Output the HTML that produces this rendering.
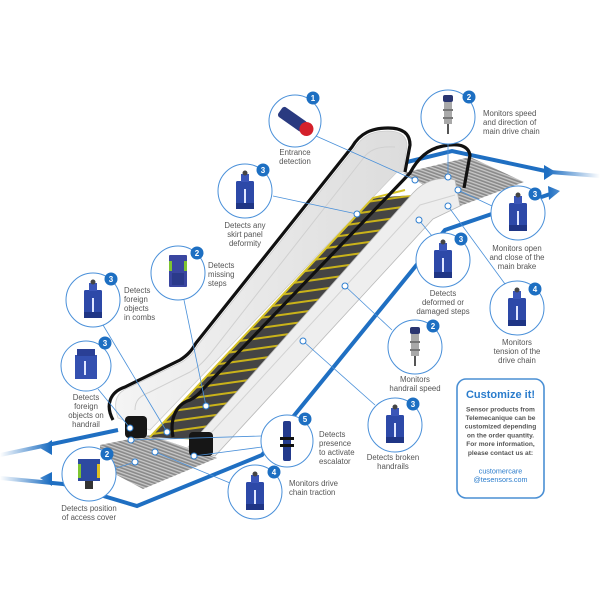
<!DOCTYPE html>
<html><head><meta charset="utf-8"><style>
html,body{margin:0;padding:0;background:#fff;width:600px;height:600px;overflow:hidden}
text{font-family:"Liberation Sans",sans-serif}
</style></head><body>
<svg width="600" height="600" viewBox="0 0 600 600" xmlns="http://www.w3.org/2000/svg">
<defs>
<pattern id="steps" patternUnits="userSpaceOnUse" width="30" height="10" patternTransform="rotate(-8)">
<rect width="30" height="10" fill="#444"/><rect width="30" height="2" fill="#c9b21a"/>
</pattern>
<pattern id="floor" patternUnits="userSpaceOnUse" width="6" height="3" patternTransform="rotate(20)">
<rect width="6" height="3" fill="#8a8a8a"/><rect width="6" height="1.3" fill="#c8c8c8"/>
</pattern>
<linearGradient id="fadeL" x1="0" x2="1"><stop offset="0" stop-color="#fff" stop-opacity="1"/><stop offset="1" stop-color="#fff" stop-opacity="0"/></linearGradient>
<linearGradient id="fadeR" x1="0" x2="1"><stop offset="0" stop-color="#fff" stop-opacity="0"/><stop offset="1" stop-color="#fff" stop-opacity="1"/></linearGradient>
<linearGradient id="glass" x1="0" y1="0" x2="1" y2="0"><stop offset="0" stop-color="#f4f4f4"/><stop offset="1" stop-color="#dcdcdc"/></linearGradient>
<g id="sw">
<rect x="-9" y="-12" width="18" height="28" rx="1.5" fill="#2d49a8"/>
<rect x="-4" y="-19" width="8" height="8" fill="#3b56b8"/>
<circle cx="0" cy="-20" r="2.5" fill="#444"/>
<rect x="-1" y="-4" width="2" height="16" fill="#dfe6ff"/>
<rect x="-9" y="10" width="18" height="6" fill="#1f3585"/>
</g>
<g id="prox">
<rect x="-5" y="-20" width="10" height="7" rx="2" fill="#2a3570"/>
<rect x="-4" y="-13" width="8" height="22" fill="#a9a9a9"/>
<rect x="-5" y="-6" width="10" height="2" fill="#777"/>
<rect x="-5" y="2" width="10" height="2" fill="#777"/>
<rect x="-1" y="9" width="2" height="10" fill="#555"/>
</g>
</defs>

<g stroke="#1f6fc2" stroke-width="4" fill="none" stroke-linejoin="miter">
<path d="M0,478 L63,484 L137,506 L262,455 L445,230 L556,192"/>
<path d="M0,455 L118,430"/>
<path d="M407,162 L452,151 L550,172 L600,176"/>
</g>
<g fill="#1f6fc2">
<polygon points="40,448 52,440 52,455"/>
<polygon points="40,478 52,472 52,486"/>
<polygon points="556,172 544,165 544,180"/>
<polygon points="560,191 548,186 549,200"/>
</g>
<rect x="0" y="420" width="50" height="80" fill="url(#fadeL)"/>
<rect x="548" y="150" width="52" height="60" fill="url(#fadeR)"/>

<polygon points="403,173 470,157 524,182 460,206" fill="url(#floor)"/>
<polygon points="100,445 150,435 217,458 143,489 100,466" fill="url(#floor)"/>

<path d="M118,418 C112,400 118,392 128,388 L182,362 C190,357 194,352 198,345 L354,149 C362,136 372,131 388,131 C400,131 407,136 407,146 L403,172 L397,172 L150,430 Z" fill="url(#glass)" stroke="#ccc" stroke-width="0.8"/>
<path d="M135,410 C135,400 140,396 150,392 L190,372 C200,366 205,360 210,354 L362,160 C368,150 378,146 395,147" fill="none" stroke="#d0d0d0" stroke-width="1"/>
<polygon points="150,437 373,198 413,195 200,440" fill="url(#steps)"/>
<polyline points="150,437 373,198 405,190" fill="none" stroke="#d7c327" stroke-width="2"/>
<path d="M188,447 L413,193 C425,180 440,176 455,180 L460,206 L433,219 L215,456 Z" fill="#eeeeee" stroke="#b8b8b8" stroke-width="0.8"/>
<path d="M200,445 L420,205 L455,195" fill="none" stroke="#d2d2d2" stroke-width="1"/>
<path d="M113,420 C105,405 110,392 125,387 L180,360 C188,355 192,350 196,343 L352,147 C360,133 372,128 388,128 C402,128 410,133 410,145 L405,172" fill="none" stroke="#111" stroke-width="3.2"/>
<path d="M173,437 C170,422 174,405 190,400 C196,397 200,393 204,388 L410,173 C418,158 428,149 443,146 C458,143 468,145 470,155 L464,188" fill="none" stroke="#111" stroke-width="3.2"/>
<rect x="125" y="416" width="22" height="22" rx="4" fill="#161616"/>
<rect x="189" y="432" width="24" height="24" rx="4" fill="#161616"/>

<g stroke="#4a90d9" stroke-width="0.8" fill="none">
<line x1="316" y1="136" x2="415" y2="180"/>
<line x1="448" y1="144" x2="448" y2="177"/>
<line x1="273" y1="196" x2="357" y2="214"/>
<line x1="184" y1="300" x2="206" y2="406"/>
<line x1="103" y1="325" x2="167" y2="432"/>
<line x1="98" y1="389" x2="130" y2="428"/>
<line x1="131" y1="440" x2="261" y2="436"/>
<line x1="194" y1="456" x2="262" y2="447"/>
<line x1="155" y1="452" x2="230" y2="483"/>
<line x1="135" y1="462" x2="110" y2="470"/>
<line x1="458" y1="190" x2="492" y2="206"/>
<line x1="419" y1="220" x2="432" y2="236"/>
<line x1="448" y1="206" x2="505" y2="284"/>
<line x1="345" y1="286" x2="392" y2="330"/>
<line x1="303" y1="341" x2="375" y2="405"/>
</g>
<g fill="#fff" stroke="#2f7fd0" stroke-width="1">
<circle cx="415" cy="180" r="3"/><circle cx="448" cy="177" r="3"/><circle cx="357" cy="214" r="3"/>
<circle cx="206" cy="406" r="3"/><circle cx="167" cy="432" r="3"/><circle cx="130" cy="428" r="3"/>
<circle cx="131" cy="440" r="3"/><circle cx="194" cy="456" r="3"/><circle cx="155" cy="452" r="3"/>
<circle cx="135" cy="462" r="3"/><circle cx="458" cy="190" r="3"/><circle cx="419" cy="220" r="3"/>
<circle cx="448" cy="206" r="3"/><circle cx="345" cy="286" r="3"/><circle cx="303" cy="341" r="3"/>
</g>

<g fill="#fff" stroke="#4a90d9" stroke-width="1">
<circle cx="295" cy="121" r="26"/><circle cx="448" cy="117" r="27"/>
<circle cx="245" cy="191" r="27"/><circle cx="178" cy="273" r="27"/>
<circle cx="93" cy="300" r="27"/><circle cx="86" cy="366" r="25"/>
<circle cx="89" cy="474" r="27"/><circle cx="287" cy="441" r="26"/>
<circle cx="255" cy="492" r="27"/><circle cx="518" cy="213" r="27"/>
<circle cx="443" cy="260" r="27"/><circle cx="517" cy="308" r="27"/>
<circle cx="415" cy="347" r="27"/><circle cx="395" cy="425" r="27"/>
</g>
<g transform="translate(295,121) rotate(-55)"><rect x="-6" y="-18" width="12" height="30" rx="3" fill="#2a3a80"/><circle cx="0" cy="14" r="7" fill="#d4202a"/></g>
<use href="#prox" x="448" y="115"/>
<use href="#sw" x="245" y="193"/>
<g transform="translate(178,273)"><rect x="-9" y="-18" width="18" height="32" rx="1" fill="#3a46a0"/><rect x="-9" y="-12" width="3" height="10" fill="#7ec431"/><rect x="6" y="-12" width="3" height="10" fill="#7ec431"/><rect x="-6" y="0" width="12" height="12" fill="#2b3a8a"/></g>
<use href="#sw" x="93" y="302"/>
<g transform="translate(86,367)"><rect x="-11" y="-12" width="22" height="24" fill="#3450b0"/><rect x="-9" y="-18" width="18" height="7" fill="#2a3f95"/><rect x="-2" y="-6" width="2" height="14" fill="#dfe6ff"/></g>
<g transform="translate(89,474)"><rect x="-11" y="-15" width="22" height="22" fill="#2d4aa0"/><rect x="-11" y="-10" width="3" height="14" fill="#7ec431"/><rect x="8" y="-10" width="3" height="14" fill="#e0c020"/><rect x="-4" y="7" width="8" height="8" fill="#333"/></g>
<g transform="translate(287,441)"><rect x="-4" y="-20" width="8" height="40" rx="2" fill="#233a8c"/><rect x="-7" y="-4" width="14" height="3" fill="#111"/><rect x="-7" y="3" width="14" height="3" fill="#111"/></g>
<use href="#sw" x="255" y="494"/>
<use href="#sw" x="518" y="215"/>
<use href="#sw" x="443" y="262"/>
<use href="#sw" x="517" y="310"/>
<use href="#prox" x="415" y="347"/>
<use href="#sw" x="395" y="427"/>

<g fill="#1d6fc2">
<circle cx="313" cy="98" r="6.5"/><circle cx="469" cy="97" r="6.5"/><circle cx="263" cy="170" r="6.5"/>
<circle cx="197" cy="253" r="6.5"/><circle cx="111" cy="279" r="6.5"/><circle cx="105" cy="343" r="6.5"/>
<circle cx="107" cy="454" r="6.5"/><circle cx="305" cy="419" r="6.5"/><circle cx="274" cy="472" r="6.5"/>
<circle cx="535" cy="194" r="6.5"/><circle cx="461" cy="239" r="6.5"/><circle cx="535" cy="289" r="6.5"/>
<circle cx="433" cy="326" r="6.5"/><circle cx="413" cy="404" r="6.5"/>
</g>
<g fill="#fff" font-size="8" font-weight="bold" text-anchor="middle">
<text x="313" y="101">1</text><text x="469" y="100">2</text><text x="263" y="173">3</text>
<text x="197" y="256">2</text><text x="111" y="282">3</text><text x="105" y="346">3</text>
<text x="107" y="457">2</text><text x="305" y="422">5</text><text x="274" y="475">4</text>
<text x="535" y="197">3</text><text x="461" y="242">3</text><text x="535" y="292">4</text>
<text x="433" y="329">2</text><text x="413" y="407">3</text>
</g>

<g fill="#555" font-size="7.8">
<g text-anchor="middle">
<text x="295" y="155">Entrance</text><text x="295" y="164">detection</text>
<text x="245" y="228">Detects any</text><text x="245" y="237">skirt panel</text><text x="245" y="246">deformity</text>
<text x="86" y="400">Detects</text><text x="86" y="409">foreign</text><text x="86" y="418">objects on</text><text x="86" y="427">handrail</text>
<text x="89" y="511">Detects position</text><text x="89" y="520">of access cover</text>
<text x="393" y="460">Detects broken</text><text x="393" y="469">handrails</text>
<text x="415" y="382">Monitors</text><text x="415" y="391">handrail speed</text>
<text x="443" y="296">Detects</text><text x="443" y="305">deformed or</text><text x="443" y="314">damaged steps</text>
<text x="517" y="251">Monitors open</text><text x="517" y="260">and close of the</text><text x="517" y="269">main brake</text>
<text x="517" y="345">Monitors</text><text x="517" y="354">tension of the</text><text x="517" y="363">drive chain</text>
</g>
<text x="483" y="116">Monitors speed</text><text x="483" y="125">and direction of</text><text x="483" y="134">main drive chain</text>
<text x="208" y="268">Detects</text><text x="208" y="277">missing</text><text x="208" y="286">steps</text>
<text x="124" y="293">Detects</text><text x="124" y="302">foreign</text><text x="124" y="311">objects</text><text x="124" y="320">in combs</text>
<text x="319" y="437">Detects</text><text x="319" y="446">presence</text><text x="319" y="455">to activate</text><text x="319" y="464">escalator</text>
<text x="289" y="486">Monitors drive</text><text x="289" y="495">chain traction</text>
</g>

<rect x="457" y="379" width="87" height="119" rx="9" fill="#fff" stroke="#4a8fd4" stroke-width="1.6"/>
<text x="500.5" y="398" text-anchor="middle" font-size="11" font-weight="bold" fill="#2a7ccc">Customize it!</text>
<g text-anchor="middle" font-size="6.6" font-weight="bold" fill="#555">
<text x="500.5" y="411.5">Sensor products from</text>
<text x="500.5" y="420">Telemecanique can be</text>
<text x="500.5" y="428.5">customized depending</text>
<text x="500.5" y="437.5">on the order quantity.</text>
<text x="500.5" y="446">For more information,</text>
<text x="500.5" y="455">please contact us at:</text>
</g>
<g text-anchor="middle" font-size="7.2" fill="#2a7ccc">
<text x="500.5" y="473.5">customercare</text>
<text x="500.5" y="482">@tesensors.com</text>
</g>
</svg>
</body></html>
